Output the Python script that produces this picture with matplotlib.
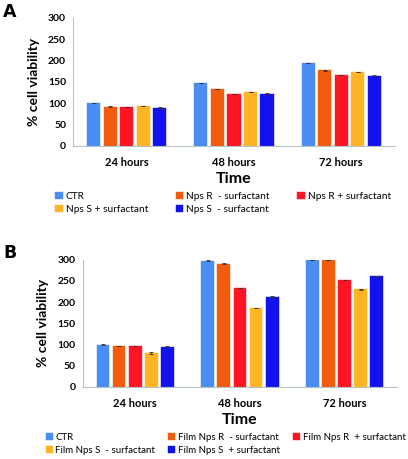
import matplotlib

matplotlib.use("Agg")
import matplotlib.pyplot as plt  # noqa: E402
import numpy as np  # noqa: E402

plt.rcParams["font.family"] = ["Lato", "DejaVu Sans"]

TIMES = ["24 hours", "48 hours", "72 hours"]
COLORS = ["#4a8df5", "#f25c0c", "#ff1423", "#ffb523", "#1212ee"]

# panel A
A_LABELS = ["CTR", "Nps R  - surfactant", "Nps R + surfactant",
            "Nps S + surfactant", "Nps S  - surfactant"]
A_CTR = [100, 148, 195]
A_NPSR_MINUS = [92, 134, 177]
A_NPSR_PLUS = [91, 122, 166]
A_NPSS_PLUS = [93, 127, 173]
A_NPSS_MINUS = [89, 122, 165]
A_ERR = [[0.5, 0.5, 0.5], [0.5, 0.5, 1.5], [0.5, 0.5, 0.5],
         [0.5, 0.5, 0.5], [1.5, 1.5, 0.5]]

# panel B
B_LABELS = ["CTR", "Film Nps R  - surfactant", "Film Nps R  + surfactant",
            "Film Nps S  - surfactant", "Film Nps S  + surfactant"]
B_CTR = [100, 298, 300]
B_FILMR_MINUS = [96, 291, 300]
B_FILMR_PLUS = [96, 234, 252]
B_FILMS_MINUS = [80, 186, 230]
B_FILMS_PLUS = [95, 212, 261]
B_ERR = [[1.5, 1.5, 0.5], [0.5, 1.5, 0.5], [0.5, 0.5, 0.5],
         [1.5, 0.5, 0.5], [1.5, 1.5, 1.5]]


def panel(fig, rect, series, labels, errs, letter, letter_y, leg_y, colsp,
          leg_x, leg_fs):
    ax = fig.add_axes(rect)
    x = np.arange(len(TIMES))
    pitch, w = 0.154, 0.122
    handles = []
    for i, vals in enumerate(series):
        b = ax.bar(x + (i - 2) * pitch, vals, w, color=COLORS[i],
                   edgecolor=COLORS[i], linewidth=0.3,
                   yerr=errs[i], error_kw=dict(ecolor="#333333", lw=0.6,
                                               capsize=1.2, capthick=0.6),
                   label=labels[i])
        handles.append(b)
    ax.set_xlim(-0.5, 2.5)
    ax.set_ylim(0, 300)
    ax.set_yticks(range(0, 301, 50))
    ax.set_xticks(x)
    ax.set_xticklabels(TIMES, fontsize=8, fontweight="bold")
    for t in ax.get_yticklabels():
        t.set_fontsize(7.5)
        t.set_fontweight("bold")
    ax.tick_params(length=0, pad=5)
    ax.tick_params(axis="x", pad=8)
    for s in ("top", "right"):
        ax.spines[s].set_visible(False)
    for s in ("left", "bottom"):
        ax.spines[s].set_color("#b4c3c8")
        ax.spines[s].set_linewidth(0.8)
    ax.set_ylabel("% cell viability", fontsize=10, fontweight="bold",
                  labelpad=6)
    ax.set_xlabel("Time", fontsize=11.5, fontweight="bold", labelpad=3)
    order = [0, 3, 1, 4, 2]
    fig.legend([handles[k] for k in order], [labels[k] for k in order],
               ncol=3, loc="upper left", bbox_to_anchor=(leg_x, leg_y),
               frameon=False, fontsize=leg_fs, handlelength=0.7,
               handleheight=0.7, handletextpad=0.3, columnspacing=colsp,
               labelspacing=0.4, borderpad=0, borderaxespad=0)
    fig.text(0.008, letter_y, letter, fontsize=12.5,
             fontweight="bold", ha="left", va="top",
             family="DejaVu Sans")
    return ax


fig = plt.figure(figsize=(4.08, 4.59), dpi=100)
panel(fig, [0.179, 0.682, 0.789, 0.279],
      [A_CTR, A_NPSR_MINUS, A_NPSR_PLUS, A_NPSS_PLUS, A_NPSS_MINUS],
      A_LABELS, A_ERR, "A", 1 - 3 / 459, 1 - 192 / 459, 2.75, 0.136, 7.3)
panel(fig, [0.203, 0.157, 0.770, 0.277],
      [B_CTR, B_FILMR_MINUS, B_FILMR_PLUS, B_FILMS_MINUS, B_FILMS_PLUS],
      B_LABELS, B_ERR, "B", 1 - 244 / 459, 1 - 433 / 459, 1.35, 0.112, 7.0)
fig.savefig("out.png", dpi=100)
plt.close(fig)
